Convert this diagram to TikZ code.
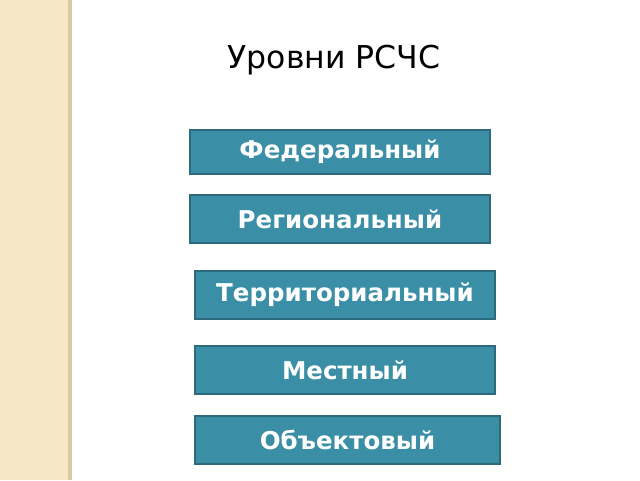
\documentclass[tikz,border=0pt]{standalone}
\usepackage{fontspec}
\setmainfont{DejaVu Sans}
\definecolor{levelfill}{HTML}{3A8FA6}
\definecolor{levelline}{HTML}{2D6A7C}
\definecolor{stripfill}{HTML}{F6E8C4}
\definecolor{stripline}{HTML}{D8C9A2}
\tikzset{
  level/.style={draw=levelline, line width=1.2pt, fill=levelfill, text=white,
    minimum width=300pt, minimum height=48pt, inner sep=0pt,
    font=\bfseries\fontsize{24.5}{28}\selectfont},
}

\begin{document}
\begin{tikzpicture}[x=1pt,y=-1pt]
            \useasboundingbox (0,0) rectangle (640,480);
            \fill[stripfill] (0,0) rectangle (70,480);
            \fill[stripline] (68,0) rectangle (72,480);
            \node (title) at (334,60) {\fontsize{31.5}{36}\selectfont Уровни РСЧС};
            \node[level, minimum height=44pt] (federal) at (340,152) {Федеральный};
            \node[level] (regional) at (340,219) {Региональный};
            \node[level] (territorial) at (345,295) {Территориальный};
            \node[level] (local) at (345,370) {Местный};
            \node[level, minimum width=305pt] (object) at (347.5,440) {Объектовый};
        \end{tikzpicture}
\end{document}
